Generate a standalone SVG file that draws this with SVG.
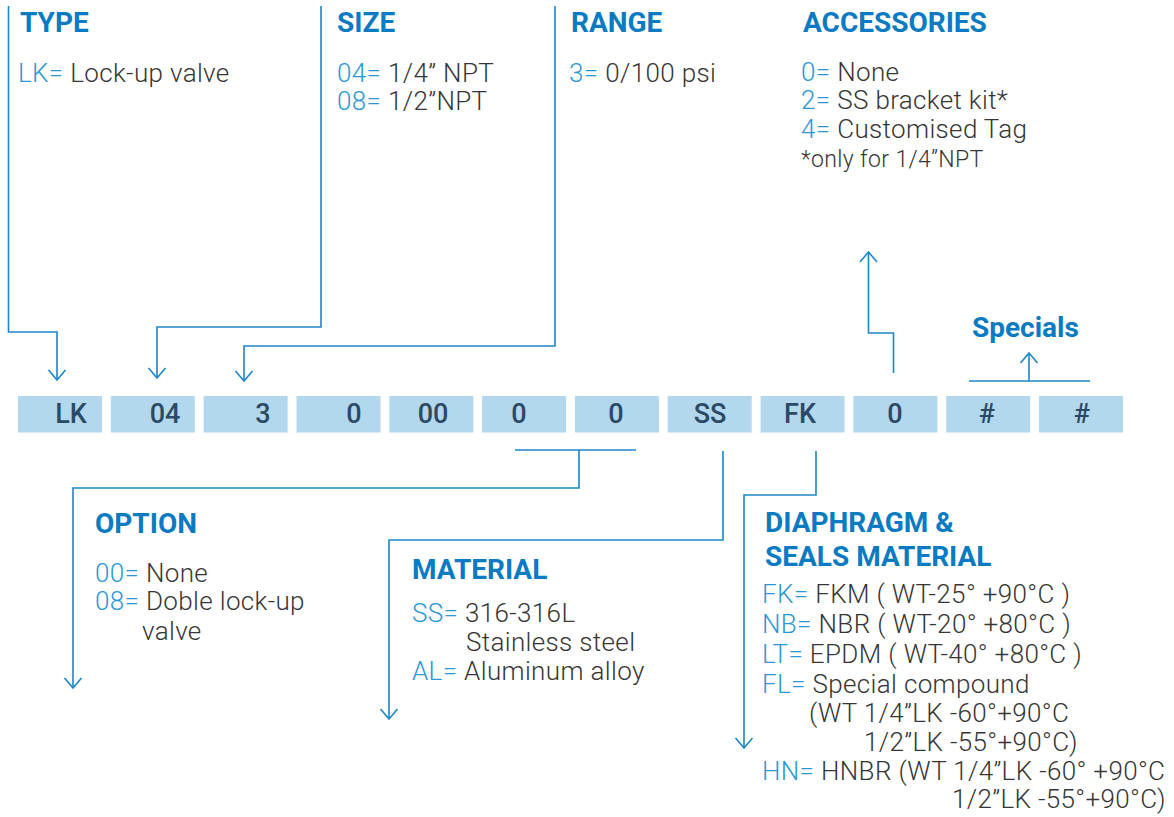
<svg xmlns="http://www.w3.org/2000/svg" width="1174" height="817" viewBox="0 0 1174 817">
<defs>
<style>
.hd{font-family:Roboto,"Liberation Sans",sans-serif;font-weight:700;font-size:28px;fill:#0a7bc2}
.tx{font-family:Roboto,"Liberation Sans",sans-serif;font-weight:300;font-size:26px;fill:#363636;letter-spacing:0.35px}
.cd{fill:#2b98d6}
.sm{font-size:23px}
.box{fill:#b3d7ec}
.bt{font-family:Roboto,"Liberation Sans",sans-serif;font-weight:500;font-size:27px;fill:#2a4a65;text-anchor:middle}
.ln{fill:none;stroke:#1d86c9;stroke-width:1.6}
</style>
<marker id="ah" viewBox="-11 -10 12 20" refX="0" refY="0" markerWidth="12" markerHeight="20" markerUnits="userSpaceOnUse" orient="auto">
<path d="M-10,-8.5 L0,0 L-10,8.5" fill="none" stroke="#1d86c9" stroke-width="1.6"/>
</marker>
</defs>
<rect width="1174" height="817" fill="#fff"/>

<g id="connectors">
<path class="ln" d="M8.5,6 V332 H57 V380" marker-end="url(#ah)"/>
<path class="ln" d="M321,6 V327 H157 V378" marker-end="url(#ah)"/>
<path class="ln" d="M555,6 V346 H244 V381" marker-end="url(#ah)"/>
<path class="ln" d="M893.5,373 V333 H868.5 V252" marker-end="url(#ah)"/>
<path class="ln" d="M969,381 H1090"/>
<path class="ln" d="M1029,381 V353" marker-end="url(#ah)"/>
<path class="ln" d="M515,450 H636"/>
<path class="ln" d="M579,450 V488 H73 V688" marker-end="url(#ah)"/>
<path class="ln" d="M723,451 V540 H389 V719" marker-end="url(#ah)"/>
<path class="ln" d="M816,451 V495 H744 V748" marker-end="url(#ah)"/>
</g>

<g id="code">
<g id="box-type"><rect class="box" x="18" y="396" width="84" height="36.5"/><text class="bt" x="71" y="423">LK</text></g>
<g id="box-size"><rect class="box" x="110.8" y="396" width="84" height="36.5"/><text class="bt" x="165" y="423">04</text></g>
<g id="box-range"><rect class="box" x="203.6" y="396" width="84" height="36.5"/><text class="bt" x="263" y="423">3</text></g>
<g id="box-4"><rect class="box" x="296.5" y="396" width="84" height="36.5"/><text class="bt" x="354" y="423">0</text></g>
<g id="box-5"><rect class="box" x="389.3" y="396" width="84" height="36.5"/><text class="bt" x="433" y="423">00</text></g>
<g id="box-option1"><rect class="box" x="482.1" y="396" width="84" height="36.5"/><text class="bt" x="519" y="423">0</text></g>
<g id="box-option2"><rect class="box" x="574.9" y="396" width="84" height="36.5"/><text class="bt" x="616" y="423">0</text></g>
<g id="box-material"><rect class="box" x="667.7" y="396" width="84" height="36.5"/><text class="bt" x="710" y="423">SS</text></g>
<g id="box-seals"><rect class="box" x="760.6" y="396" width="84" height="36.5"/><text class="bt" x="800" y="423">FK</text></g>
<g id="box-accessories"><rect class="box" x="853.4" y="396" width="84" height="36.5"/><text class="bt" x="895" y="423">0</text></g>
<g id="box-special1"><rect class="box" x="946.2" y="396" width="84" height="36.5"/><text class="bt" x="987" y="423">#</text></g>
<g id="box-special2"><rect class="box" x="1039" y="396" width="84" height="36.5"/><text class="bt" x="1082" y="423">#</text></g>
</g>

<g id="type">
<text class="hd" x="20" y="32">TYPE</text>
<text class="tx" x="18" y="82"><tspan class="cd">LK=</tspan> Lock-up valve</text>
</g>
<g id="size">
<text class="hd" x="337" y="32">SIZE</text>
<text class="tx" x="337" y="82"><tspan class="cd">04=</tspan> 1/4” NPT</text>
<text class="tx" x="337" y="110"><tspan class="cd">08=</tspan> 1/2”NPT</text>
</g>
<g id="range">
<text class="hd" x="571" y="32">RANGE</text>
<text class="tx" x="569" y="82"><tspan class="cd">3=</tspan> 0/100 psi</text>
</g>
<g id="accessories">
<text class="hd" x="803" y="32">ACCESSORIES</text>
<text class="tx" x="801" y="81"><tspan class="cd">0=</tspan> None</text>
<text class="tx" x="801" y="109"><tspan class="cd">2=</tspan> SS bracket kit*</text>
<text class="tx" x="801" y="138"><tspan class="cd">4=</tspan> Customised Tag</text>
<text class="tx sm" x="801" y="167">*only for 1/4”NPT</text>
</g>
<g id="specials">
<text class="hd" x="972" y="337">Specials</text>
</g>
<g id="option">
<text class="hd" x="95" y="533">OPTION</text>
<text class="tx" x="95" y="582"><tspan class="cd">00=</tspan> None</text>
<text class="tx" x="95" y="610"><tspan class="cd">08=</tspan> Doble lock-up</text>
<text class="tx" x="142" y="640">valve</text>
</g>
<g id="material">
<text class="hd" x="412" y="579">MATERIAL</text>
<text class="tx" x="412" y="622"><tspan class="cd">SS=</tspan> 316-316L</text>
<text class="tx" x="466" y="651">Stainless steel</text>
<text class="tx" x="412" y="680"><tspan class="cd">AL=</tspan> Aluminum alloy</text>
</g>
<g id="seals">
<text class="hd" x="765" y="532">DIAPHRAGM &amp;</text>
<text class="hd" x="765" y="566">SEALS MATERIAL</text>
<text class="tx" x="762" y="603"><tspan class="cd">FK=</tspan> FKM ( WT-25° +90°C )</text>
<text class="tx" x="762" y="633"><tspan class="cd">NB=</tspan> NBR ( WT-20° +80°C )</text>
<text class="tx" x="762" y="663"><tspan class="cd">LT=</tspan> EPDM ( WT-40° +80°C )</text>
<text class="tx" x="762" y="693"><tspan class="cd">FL=</tspan> Special compound</text>
<text class="tx" x="809" y="722">(WT 1/4”LK -60°+90°C</text>
<text class="tx" x="864" y="751">1/2”LK -55°+90°C)</text>
<text class="tx" x="762" y="780"><tspan class="cd">HN=</tspan> HNBR (WT 1/4”LK -60° +90°C</text>
<text class="tx" x="952" y="808">1/2”LK -55°+90°C)</text>
</g>
</svg>
